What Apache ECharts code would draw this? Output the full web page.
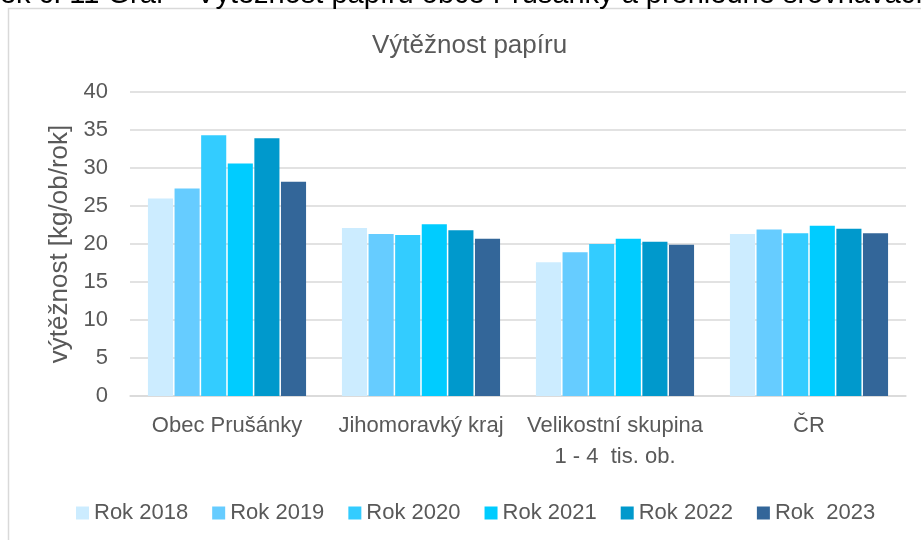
<!DOCTYPE html>
<html>
<head>
<meta charset="utf-8">
<script src="https://cdn.jsdelivr.net/npm/echarts@6/dist/echarts.min.js"></script>
<style>
  html, body { margin: 0; padding: 0; background: #fff; }
  #chart { width: 921px; height: 540px; }
</style>
</head>
<body>
<div id="chart"></div>
<script>
// data
const categories = ['Obec Prušánky', 'Jihomoravký kraj', 'Velikostní skupina\n1 - 4  tis. ob.', 'ČR']
const years = ['Rok 2018', 'Rok 2019', 'Rok 2020', 'Rok 2021', 'Rok 2022', 'Rok  2023']
const rok2018 = [26.0, 22.1, 17.6, 21.3]
const rok2019 = [27.3, 21.3, 18.9, 21.9]
const rok2020 = [34.3, 21.2, 20.0, 21.4]
const rok2021 = [30.6, 22.6, 20.7, 22.4]
const rok2022 = [33.9, 21.8, 20.3, 22.0]
const rok2023 = [28.2, 20.7, 19.9, 21.4]
const values = [rok2018, rok2019, rok2020, rok2021, rok2022, rok2023]
const yTicks = { min: 0, max: 40, interval: 5 }

const colors = ['#CCECFF', '#66CCFF', '#33CCFF', '#00CCFF', '#0099CC', '#336699']
const font = 'Liberation Sans'

const chart = echarts.init(document.getElementById('chart'))

chart.setOption({
  color: colors,
  animation: false,
  textStyle: { fontFamily: font },
  title: {
    text: 'Výtěžnost papíru',
    left: 367,
    top: 28,
    textStyle: { fontFamily: font, fontSize: 26, fontWeight: 'normal', color: '#595959' },
  },
  graphic: [
    {
      type: 'rect',
      shape: { x: 8.5, y: 8.5, width: 1000, height: 1000 },
      style: { fill: 'none', stroke: '#d9d9d9', lineWidth: 1.5 },
      silent: true,
    },
    {
      // caption above the chart box, cut off by the top edge
      type: 'text',
      left: -79,
      top: -20,
      style: {
        text: 'Obrázek č. 11 Graf – Výtěžnost papíru obce Prušánky a přehledné srovnávací',
        font: '29px "Liberation Sans"',
        fill: '#000',
      },
      silent: true,
    },
  ],
  legend: {
    left: 71,
    top: 497,
    icon: 'rect',
    itemWidth: 13,
    itemHeight: 13,
    itemGap: 24,
    textStyle: { fontFamily: font, fontSize: 22, color: '#595959' },
    data: years,
  },
  grid: { left: 130, right: 15, top: 92, bottom: 144, containLabel: false },
  xAxis: {
    type: 'category',
    data: categories,
    axisTick: { show: false },
    axisLine: { lineStyle: { color: '#d9d9d9', width: 1.5 } },
    axisLabel: { interval: 0, fontFamily: font, fontSize: 22, color: '#595959', margin: 14, lineHeight: 31 },
  },
  yAxis: {
    type: 'value',
    min: yTicks.min,
    max: yTicks.max,
    interval: yTicks.interval,
    name: 'výtěžnost [kg/ob/rok]',
    nameLocation: 'middle',
    nameGap: 56,
    nameTextStyle: { fontFamily: font, fontSize: 26, color: '#595959' },
    axisLine: { show: false },
    axisTick: { show: false },
    axisLabel: { fontFamily: font, fontSize: 22, color: '#595959', margin: 22 },
    splitLine: { lineStyle: { color: '#d9d9d9', width: 1.5 } },
  },
  series: years.map((name, i) => ({
    name,
    type: 'bar',
    data: values[i],
    barGap: '6%',
    barCategoryGap: '18.5%',
  })),
})
</script>
</body>
</html>
